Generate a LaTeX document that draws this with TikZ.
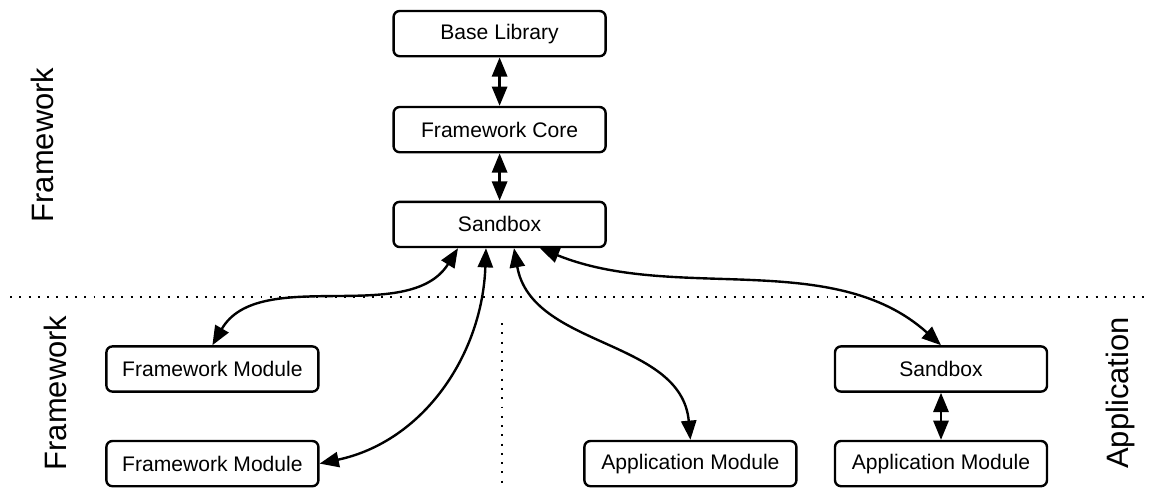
\documentclass[tikz,border=0pt]{standalone}
\usepackage{fontspec}
\setmainfont{Liberation Sans}
\usetikzlibrary{arrows.meta}
\tikzset{
    box/.style={draw, rounded corners=0.15cm, minimum width=5.3cm, minimum height=1.13cm, inner sep=0pt, font=\fontsize{15}{18}\selectfont},
    layer/.style={rotate=90, font=\fontsize{22}{26}\selectfont},
    sep/.style={line width=1.4pt, dash pattern=on 1.4pt off 5.2pt}
}
\begin{document}
\begin{tikzpicture}[>={Triangle[length=0.48cm,width=0.38cm]}, line width=1.7pt]
        \useasboundingbox (0,0) rectangle (28.975,-12.225);
        % core of the framework
        \node[box] (base) at (12.49,-0.84) {Base Library};
        \node[box] (core) at (12.49,-3.24) {Framework Core};
        \node[box] (sandbox) at (12.49,-5.61) {Sandbox};
        % modules
        \node[box] (fwmod1) at (5.31,-9.225) {Framework Module};
        \node[box] (fwmod2) at (5.31,-11.59) {Framework Module};
        \node[box] (appmod1) at (17.26,-11.59) {Application Module};
        \node[box] (appsandbox) at (23.525,-9.225) {Sandbox};
        \node[box] (appmod2) at (23.525,-11.59) {Application Module};
        % layer names
        \node[layer] (fwtop) at (1.05,-3.625) {Framework};
        \node[layer] (fwbottom) at (1.375,-9.825) {Framework};
        \node[layer] (app) at (28.0,-9.825) {Application};
        \coordinate (sepl) at (0.25,-7.425);
        \coordinate (sepr) at (28.75,-7.425);
        \coordinate (sept) at (12.55,-8.075);
        \coordinate (sepb) at (12.55,-12.225);
        \draw[sep] (sepl) -- (sepr);
        \draw[sep] (sept) -- (sepb);
        \draw[<->] (base) -- (core);
        \draw[<->] (core) -- (sandbox);
        \draw[<->] ([xshift=-1.04cm]sandbox.south) to[out=238,in=60,looseness=0.9] (fwmod1.north);
        \draw[<->] ([xshift=-0.34cm]sandbox.south) to[out=268,in=12] (fwmod2.east);
        \draw[<->] ([xshift=0.36cm]sandbox.south) to[out=280,in=95] (appmod1.north);
        \draw[<->] ([xshift=1.01cm]sandbox.south) to[out=-22,in=138,looseness=0.9] (appsandbox.north);
        \draw[<->] (appsandbox) -- (appmod2);
    \end{tikzpicture}
\end{document}
